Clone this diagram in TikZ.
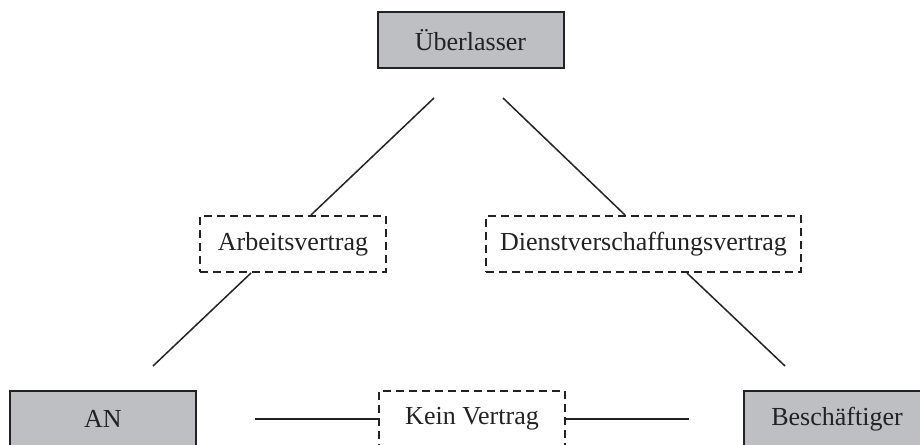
\documentclass[tikz,border=0pt]{standalone}
\usepackage{fontspec}
\setmainfont{Liberation Serif}
\usetikzlibrary{positioning}
\definecolor{partygray}{RGB}{190,191,194}
\definecolor{ink}{RGB}{34,34,34}

\begin{document}
\begin{tikzpicture}[x=1pt, y=-1pt, line width=1.5pt,
	party/.style={draw=ink, line width=2pt, fill=partygray, minimum height=56pt, minimum width=186pt, inner sep=0pt, text=ink},
	contract/.style={draw=ink, line width=2pt, dash pattern=on 8pt off 5pt, minimum height=56pt, inner sep=0pt, text=ink},
	font=\fontsize{26}{31}\selectfont]

\useasboundingbox (0,0) rectangle (920,444);

\node[party] (ueberl) at (470.5,40) {Überlasser};
\node[party] (an) at (103,419) {AN};
\node[party] (besch) at (837,419) {Beschäftiger};

\node[contract, minimum width=186pt] (arbeit) at (293,244) {Arbeitsvertrag};
\node[contract, minimum width=315pt] (dienst) at (643.5,244) {Dienstverschaffungsvertrag};
\node[contract, minimum width=186pt] (kein) at (472,419) {Kein Vertrag};

\coordinate (ue-l) at (434,98);
\coordinate (ue-r) at (503,98);
\coordinate (an-ne) at (153,366);
\coordinate (be-nw) at (785,366);
\coordinate (an-e) at (255,419);
\coordinate (be-w) at (689,419);

\draw[ink] (ue-l) -- ([xshift=18]arbeit.north);
\draw[ink] ([xshift=-42]arbeit.south) -- (an-ne);
\draw[ink] (ue-r) -- ([xshift=-18.5]dienst.north);
\draw[ink] ([xshift=43.5]dienst.south) -- (be-nw);
\draw[ink] (an-e) -- (kein.west);
\draw[ink] (kein.east) -- (be-w);

\end{tikzpicture}
\end{document}
